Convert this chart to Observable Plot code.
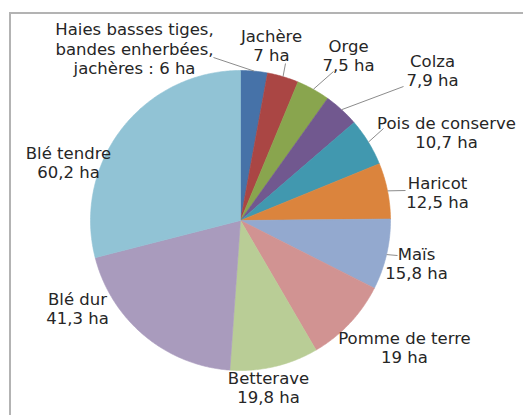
<!DOCTYPE html>
<html>
<head>
<meta charset="utf-8">
<script src="https://cdn.jsdelivr.net/npm/d3@7"></script>
<script src="https://cdn.jsdelivr.net/npm/@observablehq/plot@0.6"></script>
<style>
  html, body { margin: 0; padding: 0; background: #fff; overflow: hidden; }
  #wrap { position: relative; width: 523px; height: 415px; }
  #frame { position: absolute; left: 9px; top: 12px; width: 600px; height: 500px;
           border-top: 2px solid #b3b3b3; border-left: 2px solid #b3b3b3; pointer-events: none; }
  #chart { position: absolute; left: 0; top: 0; }
</style>
</head>
<body>
<div id="wrap"><div id="chart"></div><div id="frame"></div></div>
<script>
// ---- data ----
const categories = ["Haies", "Jachère", "Orge", "Colza", "Pois de conserve", "Haricot",
  "Maïs", "Pomme de terre", "Betterave", "Blé dur", "Blé tendre"];
const values = [6, 7, 7.5, 7.9, 10.7, 12.5, 15.8, 19, 19.8, 41.3, 60.2];
const labels = [
  "Haies basses tiges,\nbandes enherbées,\njachères : 6 ha",
  "Jachère\n7 ha", "Orge\n7,5 ha", "Colza\n7,9 ha", "Pois de conserve\n10,7 ha",
  "Haricot\n12,5 ha", "Maïs\n15,8 ha", "Pomme de terre\n19 ha", "Betterave\n19,8 ha",
  "Blé dur\n41,3 ha", "Blé tendre\n60,2 ha"];
const colors = ["#4672a8", "#aa4644", "#89a54e", "#71588f", "#4198af", "#db843d",
  "#93a9cf", "#d19392", "#b9cd96", "#a99bbd", "#91c3d5"];

// ---- layout (pie units: radius = 150, origin at pie centre, y up) ----
const R = 150;
const labelPos = [[-106, 172], [31, 175], [108, 165], [192, 150], [206, 88], [197, 28],
  [176, -43], [164, -127], [28, -167], [-163, -88], [-172, 58]];
const leaderEnd = [[-27, 163], [45, 157], [93, 149], [163, 134], [143, 92], [165, 30], [157, -35],
  null, null, null, null];

// ---- build ----
const arcs = d3.pie().sort(null).value(d => d)(values);
const slicePts = [];
arcs.forEach((a, i) => {
  const cat = categories[i];
  slicePts.push({cat, x: 0, y: 0});
  const n = Math.max(2, Math.ceil((a.endAngle - a.startAngle) / 0.01));
  for (let k = 0; k <= n; k++) {
    const t = a.startAngle + (a.endAngle - a.startAngle) * k / n;
    slicePts.push({cat, x: R * Math.sin(t), y: R * Math.cos(t)});
  }
  slicePts.push({cat, x: 0, y: 0});
});
const labelData = categories.map((c, i) => ({cat: c, text: labels[i], x: labelPos[i][0], y: labelPos[i][1]}));
const leaders = [];
arcs.forEach((a, i) => {
  if (!leaderEnd[i]) return;
  const m = (a.startAngle + a.endAngle) / 2;
  leaders.push({x1: R * Math.sin(m), y1: R * Math.cos(m), x2: leaderEnd[i][0], y2: leaderEnd[i][1]});
});

const chart = Plot.plot({
  width: 523, height: 415,
  margin: 0,
  x: {domain: [-240, 283], range: [0, 523], axis: null},
  y: {domain: [-195, 220], range: [415, 0], axis: null},
  color: {domain: categories, range: colors},
  style: {background: "transparent"},
  marks: [
    Plot.line(slicePts, {x: "x", y: "y", z: "cat", fill: "cat", stroke: "cat", strokeWidth: 0.6, curve: "linear"}),
    Plot.link(leaders, {x1: "x1", y1: "y1", x2: "x2", y2: "y2", stroke: "#8c8c8c", strokeWidth: 1}),
    Plot.text(labelData, {x: "x", y: "y", text: "text", textAnchor: "middle", lineAnchor: "middle",
      fontSize: 16.5, lineHeight: 1.18, fill: "#262626", fontFamily: "DejaVu Sans"})
  ]
});
document.getElementById("chart").appendChild(chart);
</script>
</body>
</html>
